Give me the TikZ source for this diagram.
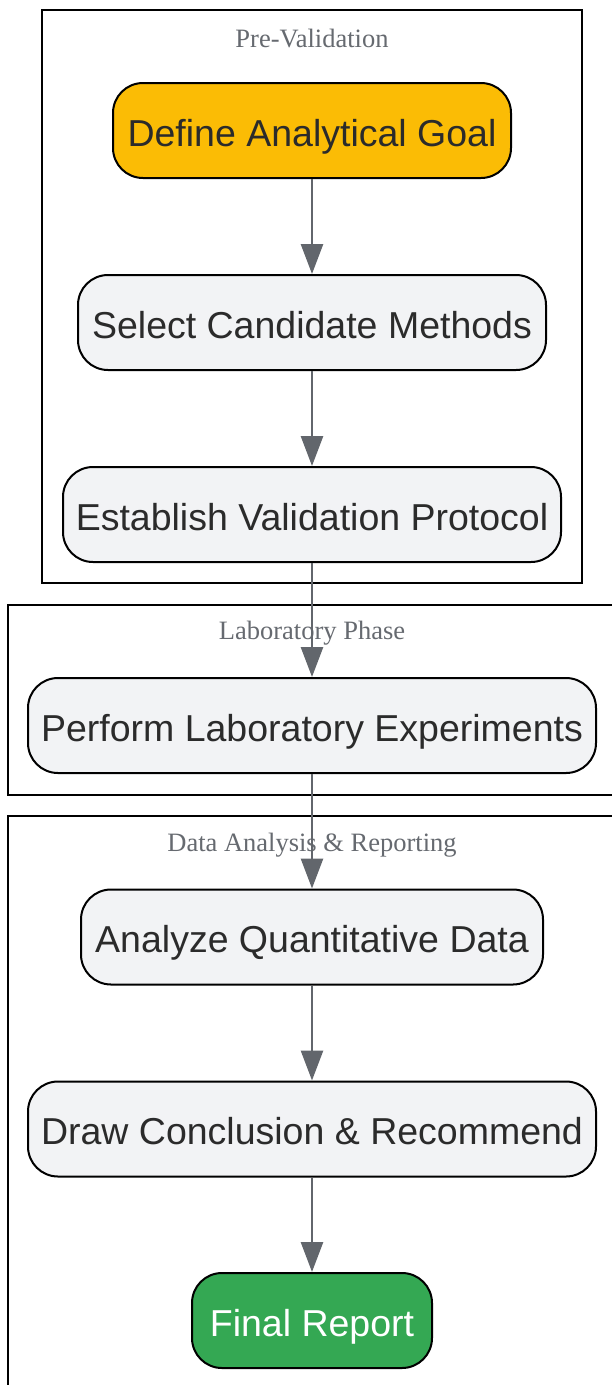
\documentclass[tikz,border=0pt]{standalone}
\usepackage{fontspec}
\setmainfont{Liberation Serif}
\newfontfamily\nodefont{Liberation Sans}
\usetikzlibrary{arrows.meta}
\definecolor{labelgray}{HTML}{666A70}
\definecolor{nodegray}{HTML}{F2F3F5}
\definecolor{nodetext}{HTML}{2B2B2B}
\definecolor{arrowgray}{HTML}{62666C}
\definecolor{goalyellow}{HTML}{FBBC05}
\definecolor{reportgreen}{HTML}{34A853}
\begin{document}
\begin{tikzpicture}[x=1pt,y=-1pt,
 cluster/.style={draw=black,line width=2pt},
 clabel/.style={text=labelgray,font=\fontsize{26.5}{30}\selectfont,inner sep=0pt},
 stepbox/.style={draw=black,line width=2pt,rounded corners=30pt,fill=nodegray,text=nodetext,
   font=\nodefont\fontsize{37.5}{44}\selectfont,minimum height=95pt,inner sep=0pt,
   text height=31pt,text depth=0pt},
 flow/.style={draw=arrowgray,line width=2.7pt,-{Triangle[length=30pt,width=22pt]}}]
\useasboundingbox[fill=white] (0,0) rectangle (612,1385);

% clusters
\draw[cluster] (42,10) rectangle (582,583);
\draw[cluster] (8,605) rectangle (625,795);
\draw[cluster] (8,816) rectangle (625,1400);

\node[clabel] (lpre) at (312,38.5) {Pre-Validation};
\node[clabel] (llab) at (312,633.5) {Laboratory Phase};
\node[clabel] (ldata) at (312,845.5) {Data Analysis \& Reporting};

% nodes
\node[stepbox,fill=goalyellow,minimum width=398pt] (goal) at (312,130.5) {Define Analytical Goal};
\node[stepbox,minimum width=468pt] (select) at (312,322.5) {Select Candidate Methods};
\node[stepbox,minimum width=498pt] (protocol) at (312,514.5) {Establish Validation Protocol};
\node[stepbox,minimum width=568pt] (lab) at (312,725.5) {Perform Laboratory Experiments};
\node[stepbox,minimum width=462pt] (analyze) at (312,937) {Analyze Quantitative Data};
\node[stepbox,minimum width=568pt] (conclude) at (312,1129) {Draw Conclusion \& Recommend};
\node[stepbox,fill=reportgreen,text=white,minimum width=240pt] (report) at (312,1320.5) {Final Report};

% connectors
\draw[flow] (goal.south) -- (select.north);
\draw[flow] (select.south) -- (protocol.north);
\draw[flow] (protocol.south) -- (lab.north);
\draw[flow] (lab.south) -- (analyze.north);
\draw[flow] (analyze.south) -- (conclude.north);
\draw[flow] (conclude.south) -- (report.north);
\end{tikzpicture}
\end{document}
